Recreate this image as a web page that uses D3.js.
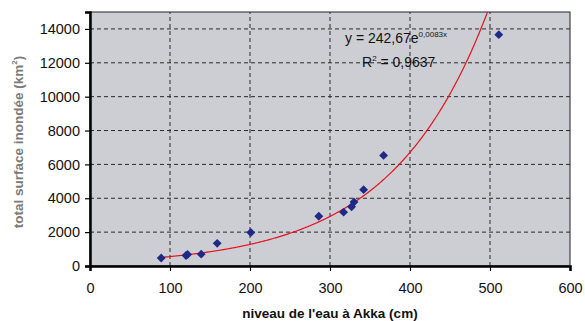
<!DOCTYPE html>
<html><head><meta charset="utf-8">
<script src="https://cdn.jsdelivr.net/npm/d3@7"></script>
<style>body{margin:0;background:#fff}svg{display:block}text{font-family:"Liberation Sans",Arial,sans-serif}</style>
</head><body>
<script>
const levels = [89, 120, 122, 139, 159, 201, 286, 317, 327, 330, 342, 367, 511];
const areas  = [470, 620, 680, 700, 1340, 1980, 2940, 3180, 3500, 3780, 4510, 6530, 13660];
const xTicks = [0, 100, 200, 300, 400, 500, 600];
const yTicks = [0, 2000, 4000, 6000, 8000, 10000, 12000, 14000];
const fitA = 242.67, fitB = 0.0083;
const eqText = "y = 242,67e", eqExp = "0,0083x", r2Text = " = 0,9637";

const W = 585, H = 321;
const m = {l: 90, r: 15, t: 12, b: 55};
const svg = d3.select("body").append("svg").attr("width", W).attr("height", H);
const x = d3.scaleLinear().domain([0, 600]).range([m.l, W - m.r]);
const y = d3.scaleLinear().domain([0, 15000]).range([H - m.b, m.t]);

svg.append("rect").attr("x", x(0)).attr("y", y(15000)).attr("width", x(600) - x(0)).attr("height", y(0) - y(15000))
  .attr("fill", "#cdced3").attr("stroke", "#222").attr("stroke-width", 1);

// grid
svg.append("g").selectAll("line").data(xTicks.filter(d => d > 0 && d < 600)).join("line")
  .attr("x1", d => x(d)).attr("x2", d => x(d)).attr("y1", y(0)).attr("y2", y(15000))
  .attr("stroke", "#2a2a2a").attr("stroke-dasharray", "4,3").attr("stroke-width", 1);
svg.append("g").selectAll("line").data(yTicks.filter(d => d > 0)).join("line")
  .attr("x1", x(0)).attr("x2", x(600)).attr("y1", d => y(d)).attr("y2", d => y(d))
  .attr("stroke", "#2a2a2a").attr("stroke-dasharray", "4,3").attr("stroke-width", 1);

// axes
const xa = svg.append("g").attr("transform", `translate(0,${y(0)})`)
  .call(d3.axisBottom(x).tickValues(xTicks).tickSize(5).tickPadding(12).tickFormat(d3.format("d")));
const ya = svg.append("g").attr("transform", `translate(${x(0)},0)`)
  .call(d3.axisLeft(y).tickValues(yTicks).tickSize(5).tickPadding(5).tickFormat(d3.format("d")));
[xa, ya].forEach(a => {
  a.select(".domain").attr("stroke", "#000").attr("stroke-width", 2.5);
  a.selectAll(".tick line").attr("stroke", "#000").attr("stroke-width", 1.2);
  a.selectAll(".tick text").attr("font-size", 14.5).attr("fill", "#111").attr("font-family", "Liberation Sans, Arial, sans-serif");
});

// fit curve
svg.append("clipPath").attr("id", "c").append("rect")
  .attr("x", x(0)).attr("y", y(15000)).attr("width", x(600) - x(0)).attr("height", y(0) - y(15000));
const xs = d3.range(levels[0], 520, 1);
svg.append("path").attr("clip-path", "url(#c)")
  .datum(xs.map(v => [v, fitA * Math.exp(fitB * v)]))
  .attr("d", d3.line().x(d => x(d[0])).y(d => y(d[1])))
  .attr("fill", "none").attr("stroke", "#e8101c").attr("stroke-width", 1.2);

// points
svg.append("g").selectAll("path").data(levels.map((v, i) => [v, areas[i]])).join("path")
  .attr("transform", d => `translate(${x(d[0])},${y(d[1])})`)
  .attr("d", d3.symbol().type(d3.symbolDiamond2).size(50))
  .attr("fill", "#1f2a88");

// equation
const eq = svg.append("text").attr("x", 345).attr("y", 43).attr("font-size", 14).attr("fill", "#111");
eq.append("tspan").text(eqText);
eq.append("tspan").attr("font-size", 8).attr("dy", -6).text(eqExp);
const r2 = svg.append("text").attr("x", 362).attr("y", 67).attr("font-size", 14).attr("fill", "#111");
r2.append("tspan").text("R");
r2.append("tspan").attr("font-size", 8).attr("dy", -6).text("2");
r2.append("tspan").attr("dy", 6).text(r2Text);

// axis titles
svg.append("text").attr("x", x(300)).attr("y", 318).attr("text-anchor", "middle")
  .attr("font-size", 13.5).attr("font-weight", "bold").attr("fill", "#111").text("niveau de l'eau à Akka (cm)");
const yt = svg.append("text").attr("transform", `translate(23,142) rotate(-90)`)
  .attr("text-anchor", "middle").attr("font-size", 13.5).attr("font-weight", "bold").attr("fill", "#7a7a7a");
yt.append("tspan").text("total surface inondée (km");
yt.append("tspan").attr("font-size", 8).attr("dy", -6).text("2");
yt.append("tspan").attr("dy", 6).text(")");
</script>
</body></html>
